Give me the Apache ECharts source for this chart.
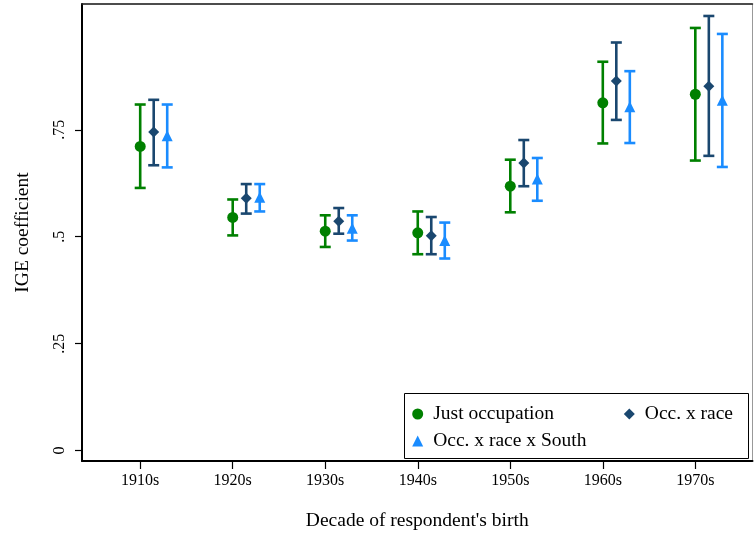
<!DOCTYPE html>
<html>
<head>
<meta charset="utf-8">
<script src="https://cdn.jsdelivr.net/npm/echarts@6/dist/echarts.min.js"></script>
<style>
  html, body { margin: 0; padding: 0; background: #fff; }
  #main { width: 754px; height: 536px; }
</style>
</head>
<body>
<div id="main"></div>
<script>
// decades of birth
const decades = ['1910s', '1920s', '1930s', '1940s', '1950s', '1960s', '1970s'];
// just occupation
const occEst = [0.711, 0.545, 0.513, 0.509, 0.618, 0.813, 0.833];
const occLo  = [0.614, 0.503, 0.476, 0.459, 0.557, 0.718, 0.678];
const occHi  = [0.809, 0.587, 0.550, 0.559, 0.680, 0.909, 0.988];
// occ. x race
const raceEst = [0.745, 0.590, 0.536, 0.502, 0.672, 0.864, 0.852];
const raceLo  = [0.667, 0.554, 0.507, 0.459, 0.618, 0.773, 0.689];
const raceHi  = [0.820, 0.623, 0.567, 0.546, 0.726, 0.954, 1.016];
// occ. x race x South
const southEst = [0.736, 0.592, 0.520, 0.491, 0.635, 0.804, 0.819];
const southLo  = [0.662, 0.559, 0.491, 0.449, 0.584, 0.719, 0.663];
const southHi  = [0.809, 0.623, 0.550, 0.533, 0.684, 0.887, 0.974];
// y tick labels
const yTicks = [0, 0.25, 0.5, 0.75];
const yTickLabels = ['0', '.25', '.5', '.75'];

const FONT = 'Liberation Serif';
const models = [
  { name: 'Just occupation', est: occEst, lo: occLo, hi: occHi, color: '#008000', symbol: 'circle', size: 11, off: 0 },
  { name: 'Occ. x race', est: raceEst, lo: raceLo, hi: raceHi, color: '#1a476f', symbol: 'diamond', size: 11, off: 0.146 },
  { name: 'Occ. x race x South', est: southEst, lo: southLo, hi: southHi, color: '#1a8cff', symbol: 'triangle', size: 11, off: 0.292 }
];

function barRenderer(color) {
  return function (params, api) {
    const x = api.value(0);
    const top = api.coord([x, api.value(2)]);
    const bot = api.coord([x, api.value(1)]);
    const hw = 5.5;
    const st = { stroke: color, lineWidth: 2.6 };
    return {
      type: 'group',
      children: [
        { type: 'line', shape: { x1: top[0], y1: top[1], x2: bot[0], y2: bot[1] }, style: st },
        { type: 'line', shape: { x1: top[0] - hw, y1: top[1], x2: top[0] + hw, y2: top[1] }, style: st },
        { type: 'line', shape: { x1: bot[0] - hw, y1: bot[1], x2: bot[0] + hw, y2: bot[1] }, style: st }
      ]
    };
  };
}

const series = [];
models.forEach(function (m) {
  series.push({
    name: m.name + ' CI',
    type: 'custom',
    renderItem: barRenderer(m.color),
    data: decades.map(function (d, i) { return [i + 1 + m.off, m.lo[i], m.hi[i]]; }),
    z: 2
  });
  series.push({
    name: m.name,
    type: 'scatter',
    symbol: m.symbol,
    symbolSize: m.size,
    itemStyle: { color: m.color, opacity: 1 },
    data: decades.map(function (d, i) { return [i + 1 + m.off, m.est[i]]; }),
    z: 3
  });
});

const legendBase = {
  orient: 'horizontal',
  itemWidth: 11,
  itemHeight: 11,
  itemGap: 0,
  selectedMode: false,
  textStyle: { fontFamily: FONT, fontSize: 19.5, color: '#000', padding: [0, 0, 0, 5] },
  z: 6
};

const chart = echarts.init(document.getElementById('main'));
chart.setOption({
  backgroundColor: '#fff',
  animation: false,
  grid: { left: 82, top: 4, right: 1.5, bottom: 72.5, show: true, borderColor: '#999', borderWidth: 1 },
  xAxis: [{
    type: 'value',
    min: 0.371,
    max: 7.618,
    name: 'Decade of respondent\'s birth',
    nameLocation: 'middle',
    nameGap: 50,
    nameTextStyle: { fontFamily: FONT, fontSize: 19.5, color: '#000' },
    axisLine: { show: true, onZero: false, lineStyle: { color: '#000', width: 2 } },
    axisTick: { show: true, length: 8, lineStyle: { color: '#000', width: 1.2 }, customValues: [1, 2, 3, 4, 5, 6, 7] },
    axisLabel: {
      fontFamily: FONT, fontSize: 16, color: '#000', margin: 12,
      customValues: [1, 2, 3, 4, 5, 6, 7],
      formatter: function (v) { return decades[Math.round(v) - 1]; }
    },
    splitLine: { show: false }
  }, {
    type: 'value',
    position: 'top',
    min: 0.371,
    max: 7.618,
    axisLine: { show: true, onZero: false, lineStyle: { color: '#222', width: 1.5 } },
    axisTick: { show: false },
    axisLabel: { show: false },
    splitLine: { show: false }
  }],
  yAxis: {
    type: 'value',
    min: -0.0244,
    max: 1.044,
    name: 'IGE coefficient',
    nameLocation: 'middle',
    nameGap: 49,
    nameTextStyle: { fontFamily: FONT, fontSize: 19.5, color: '#000' },
    axisLine: { show: true, onZero: false, lineStyle: { color: '#000', width: 2 } },
    axisTick: { show: true, length: 7, lineStyle: { color: '#000', width: 1.2 }, customValues: yTicks },
    axisLabel: {
      fontFamily: FONT, fontSize: 16, color: '#000', rotate: 90, margin: 14,
      customValues: yTicks,
      formatter: function (v) {
        const k = yTicks.findIndex(function (t) { return Math.abs(t - v) < 1e-6; });
        return k >= 0 ? yTickLabels[k] : '';
      }
    },
    splitLine: { show: false }
  },
  graphic: [{
    type: 'rect',
    left: 404,
    top: 393,
    shape: { width: 344, height: 65 },
    style: { fill: '#fff', stroke: '#000', lineWidth: 1 },
    z: 5
  }],
  legend: [
    Object.assign({}, legendBase, { left: 407.2, top: 399, data: [{ name: 'Just occupation', icon: 'circle' }] }),
    Object.assign({}, legendBase, { left: 618.8, top: 399, data: [{ name: 'Occ. x race', icon: 'diamond' }] }),
    Object.assign({}, legendBase, { left: 407.2, top: 426, data: [{ name: 'Occ. x race x South', icon: 'triangle' }] })
  ],
  series: series
});
</script>
</body>
</html>
